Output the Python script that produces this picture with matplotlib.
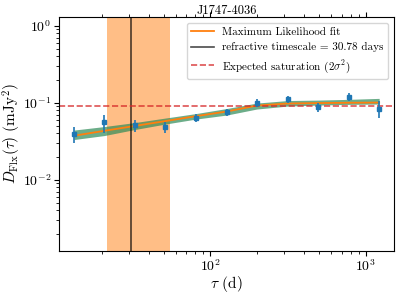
import matplotlib
matplotlib.use("Agg")
import matplotlib.pyplot as plt
import numpy as np

plt.rcParams["font.family"] = "serif"
plt.rcParams["font.serif"] = ["cmr10"]
plt.rcParams["mathtext.fontset"] = "cm"
plt.rcParams["axes.formatter.use_mathtext"] = True

psr = "J1747-4036"
tau = [13.2, 20.7, 32.5, 51.2, 80.7, 127, 199, 314, 492, 776, 1222]
dflx = [0.0393, 0.0556, 0.0508, 0.0488, 0.0638, 0.0750, 0.100, 0.1117, 0.0871, 0.1197, 0.0836]
dflx_err = [0.0095, 0.0147, 0.009, 0.008, 0.0074, 0.008, 0.012, 0.0117, 0.011, 0.015, 0.021]

fit = [0.0373, 0.0432, 0.0500, 0.0578, 0.0670, 0.0769, 0.0920, 0.0977, 0.0991, 0.100, 0.1006]
fit_lo = [0.0333, 0.0375, 0.0449, 0.0529, 0.0614, 0.0692, 0.0829, 0.0906, 0.0933, 0.0953, 0.0962]
fit_hi = [0.0442, 0.0491, 0.0553, 0.0633, 0.0724, 0.0841, 0.0991, 0.1068, 0.1083, 0.1107, 0.1140]

t_ref = 30.78
t_ref_lo, t_ref_hi = 21.6, 55.1
saturation = 0.091

fig = plt.figure(figsize=(3.99, 2.94), dpi=100)
ax = fig.add_axes([0.148, 0.146, 0.839, 0.796])

ax.axvspan(t_ref_lo, t_ref_hi, color="C1", alpha=0.5, lw=0)
ax.fill_between(tau, fit_lo, fit_hi, color="seagreen", alpha=0.7, lw=0)
ax.plot(tau, fit, color="C1", lw=1.3, label="Maximum Likelihood fit")
ax.axvline(t_ref, color="k", alpha=0.7, lw=1.2,
           label="refractive timescale = %.2f days" % t_ref)
ax.axhline(saturation, color="C3", ls="--", lw=1.2, alpha=0.8,
           label=r"Expected saturation $(2\sigma^2)$")
ax.errorbar(tau, dflx, yerr=dflx_err, fmt="s", ms=2.5, color="C0",
            elinewidth=1.2, capsize=0)

ax.set_xscale("log")
ax.set_yscale("log")
ax.set_xlim(10.58, 1519)
ax.set_ylim(0.001186, 1.297)
ax.tick_params(axis="x", which="both", top=True)
ax.tick_params(labelsize=10, pad=2)
ax.set_title(psr, fontsize=9, pad=2)
ax.set_xlabel(r"$\tau$ (d)", fontsize=11, labelpad=0)
ax.set_ylabel(r"$D_{\rm Flx}(\tau)$ (mJy$^2$)", fontsize=11, labelpad=0)
ax.legend(loc="upper right", fontsize=8)

fig.savefig("out.png", dpi=100)
